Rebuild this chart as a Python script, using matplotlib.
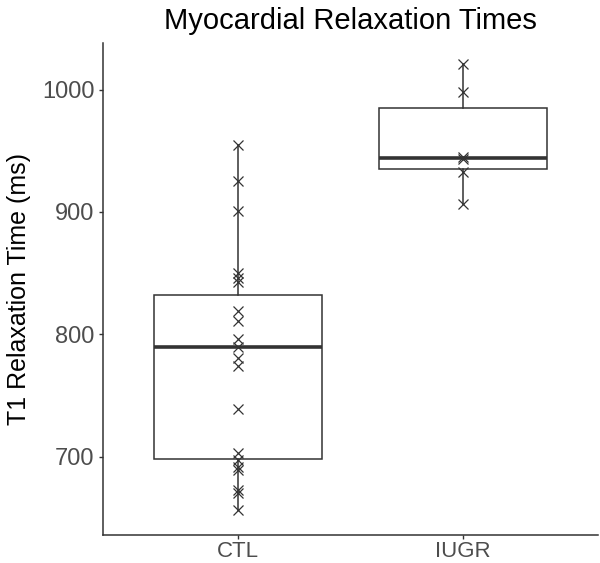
import matplotlib
matplotlib.use("Agg")
import matplotlib.pyplot as plt

plt.rcParams["font.family"] = ["Liberation Sans", "DejaVu Sans"]

# ---- data ----
groups = ["CTL", "IUGR"]
ctl_t1 = [954.7, 925.4, 900.8, 850.3, 846.2, 842.6, 818.9, 810.7, 796.5, 789.7,
          780.9, 774.3, 739.1, 702.8, 697.3, 691.8, 689.1, 672.7, 670.0, 656.3]
iugr_t1 = [1020.5, 997.9, 944.6, 943.5, 933.0, 906.3]
# box summaries (whisker low, Q1, median, Q3, whisker high)
box_lo = [656.3, 906.3]
box_q1 = [698.1, 935.0]
box_med = [789.7, 944.0]
box_q3 = [832.0, 984.8]
box_hi = [954.7, 1020.5]

fig = plt.figure(figsize=(6.0, 5.63), dpi=100)
ax = fig.add_axes([103/600, 1 - 535/563, 495/600, (535 - 43)/563])

stats = [dict(whislo=lo, q1=q1, med=m, q3=q3, whishi=hi, label=g)
         for g, lo, q1, m, q3, hi in zip(groups, box_lo, box_q1, box_med, box_q3, box_hi)]
pos = list(range(1, len(groups) + 1))
ax.bxp(stats, positions=pos, widths=0.75, showfliers=False, showcaps=False,
       patch_artist=True,
       boxprops=dict(facecolor="white", edgecolor="#333333", linewidth=1.1),
       whiskerprops=dict(color="#333333", linewidth=1.1),
       medianprops=dict(color="#333333", linewidth=2.6))

for p, vals in zip(pos, [ctl_t1, iugr_t1]):
    ax.plot([p] * len(vals), vals, ls="none", marker="x", ms=6.5, mew=0.9,
            color="#333333", zorder=5)

ax.set_xlim(0.4, 2.6)
ax.set_ylim(636, 1038)
ax.set_xticks(pos)
ax.set_xticklabels(groups)
ax.set_yticks([700, 800, 900, 1000])
ax.tick_params(axis="both", labelsize=17, colors="#333333", labelcolor="#4d4d4d",
               length=3, width=1, pad=3)
ax.tick_params(axis="x", labelsize=16, pad=1.5)
for side in ["top", "right"]:
    ax.spines[side].set_visible(False)
for side in ["left", "bottom"]:
    ax.spines[side].set_color("#333333")
    ax.spines[side].set_linewidth(1.1)

ax.set_ylabel("T1 Relaxation Time (ms)", fontsize=18, color="black", labelpad=8)
ax.set_title("Myocardial Relaxation Times", fontsize=21, color="black", pad=10)

fig.savefig("out.png", dpi=100)
